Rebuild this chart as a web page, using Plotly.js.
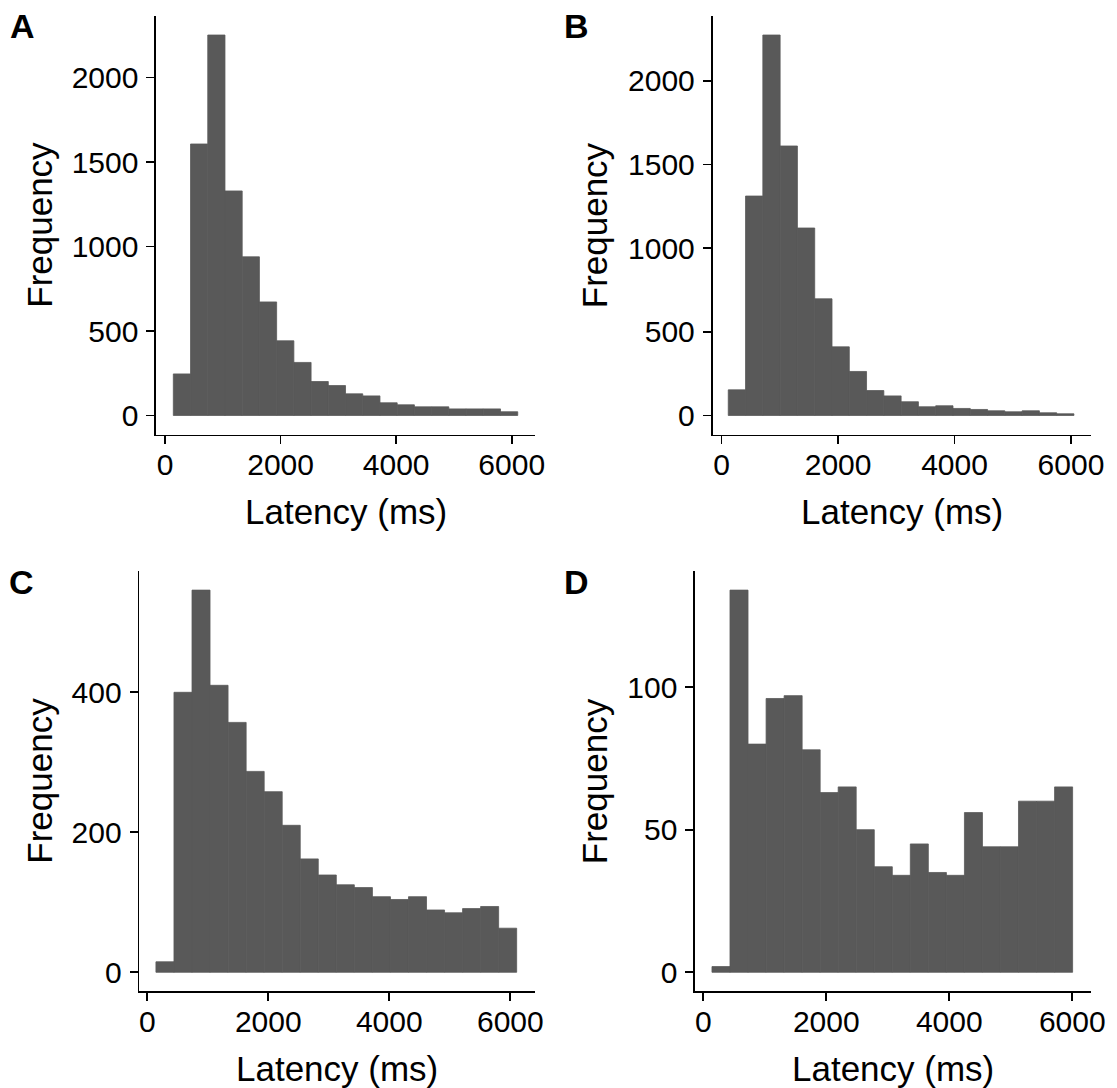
<!DOCTYPE html>
<html>
<head>
<meta charset="utf-8">
<script src="https://cdn.plot.ly/plotly-3.0.1.min.js"></script>
<style>html,body{margin:0;padding:0;background:#fff;}#chart{width:1117px;height:1088px;}</style>
</head>
<body>
<div id="chart"></div>
<script>
// ---- data ----
const panelLabels = ["A", "B", "C", "D"];
const xTitle = "Latency (ms)";
const yTitle = "Frequency";

const binsA = [293, 591, 889, 1187, 1485, 1783, 2081, 2379, 2677, 2975, 3273, 3571, 3869, 4167, 4465, 4763, 5061, 5359, 5657, 5955];
const countsA = [246, 1607, 2252, 1329, 939, 672, 442, 314, 201, 177, 128, 116, 75, 63, 51, 51, 39, 39, 39, 22];

const binsB = [262, 559, 856, 1153, 1450, 1747, 2044, 2340, 2637, 2934, 3231, 3528, 3825, 4122, 4419, 4715, 5012, 5309, 5606, 5902];
const countsB = [153, 1311, 2273, 1610, 1120, 697, 410, 263, 149, 117, 82, 52, 58, 42, 36, 28, 22, 28, 16, 10];

const binsC = [292, 590, 888, 1186, 1485, 1783, 2081, 2379, 2677, 2975, 3273, 3572, 3870, 4168, 4466, 4764, 5062, 5360, 5658, 5956];
const countsC = [15, 400, 546, 410, 357, 287, 258, 210, 162, 139, 125, 121, 108, 104, 108, 89, 85, 91, 94, 63];

const binsD = [288, 581, 874, 1168, 1461, 1754, 2047, 2340, 2634, 2927, 3220, 3513, 3807, 4100, 4393, 4686, 4979, 5272, 5566, 5859];
const countsD = [2, 134, 80, 96, 97, 78, 63, 65, 50, 37, 34, 45, 35, 34, 56, 44, 44, 60, 60, 65];

const xTicks = [0, 2000, 4000, 6000];
const yTicksAB = [0, 500, 1000, 1500, 2000];
const yTicksC = [0, 200, 400];
const yTicksD = [0, 50, 100];

// ---- layout helpers (pixels -> paper) ----
const W = 1117, H = 1088;
const fx = p => p / W;
const fy = p => 1 - p / H;
const FONT = "Liberation Sans, Arial, Helvetica, sans-serif";
const BAR = "#595959";

const panels = [
  {bins: binsA, counts: countsA, width: 298, xr: [-154, 6403], yr: [-112.6, 2364.6], yt: yTicksAB, L: 156.1, R: 535, T: 16, B: 434.5},
  {bins: binsB, counts: countsB, width: 297, xr: [-157, 6335], yr: [-113.6, 2386.6], yt: yTicksAB, L: 712.5, R: 1090.5, T: 16, B: 434.5},
  {bins: binsC, counts: countsC, width: 298, xr: [-132, 6403], yr: [-27.3, 573.3], yt: yTicksC, L: 139.3, R: 534.7, T: 571, B: 991.4},
  {bins: binsD, counts: countsD, width: 293, xr: [-133, 6298], yr: [-6.7, 140.7], yt: yTicksD, L: 695.1, R: 1090.6, T: 571, B: 991.4}
];

const data = [];
const layout = {
  width: W, height: H,
  margin: {l: 0, r: 0, t: 0, b: 0, pad: 0},
  paper_bgcolor: "#ffffff", plot_bgcolor: "#ffffff",
  showlegend: false,
  font: {family: FONT, color: "#000000"},
  annotations: []
};

const labelX = [9, 563, 7.5, 563];
const labelY = [25.5, 25.5, 581.5, 581.5];
const yTitleX = [39.5, 594, 39.5, 594];

panels.forEach((p, i) => {
  const sfx = i === 0 ? "" : String(i + 1);
  data.push({
    type: "bar",
    x: p.bins, y: p.counts,
    width: p.width,
    xaxis: "x" + sfx, yaxis: "y" + sfx,
    marker: {color: BAR, line: {width: 0.8, color: BAR}},
    hoverinfo: "x+y"
  });
  const common = {
    showgrid: false, zeroline: false,
    showline: true, linecolor: "#000000", linewidth: 1.7,
    ticks: "outside", ticklen: 8, tickwidth: 1.7, tickcolor: "#000000",
    tickfont: {family: FONT, size: 30, color: "#000000"},
    fixedrange: true
  };
  layout["xaxis" + sfx] = Object.assign({}, common, {
    domain: [fx(p.L), fx(p.R)], range: p.xr,
    anchor: "y" + sfx, tickmode: "array", tickvals: xTicks,
    ticklabelstandoff: -5
  });
  layout["yaxis" + sfx] = Object.assign({}, common, {
    domain: [fy(p.B), fy(p.T)], range: p.yr,
    anchor: "x" + sfx, tickmode: "array", tickvals: p.yt,
    ticklabelstandoff: 2
  });
  // panel label
  layout.annotations.push({
    text: "<b>" + panelLabels[i] + "</b>", xref: "paper", yref: "paper",
    x: fx(labelX[i]), y: fy(labelY[i]), xanchor: "left", yanchor: "middle",
    showarrow: false, borderpad: 0, font: {family: FONT, size: 34, color: "#000000"}
  });
  // x axis title
  layout.annotations.push({
    text: xTitle, xref: "paper", yref: "paper",
    x: fx((p.L + p.R) / 2), y: fy(p.B + 77), xanchor: "center", yanchor: "middle",
    showarrow: false, borderpad: 0, font: {family: FONT, size: 35, color: "#000000"}
  });
  // y axis title
  layout.annotations.push({
    text: yTitle, xref: "paper", yref: "paper", textangle: -90,
    x: fx(yTitleX[i]), y: fy((p.T + p.B) / 2), xanchor: "center", yanchor: "middle",
    showarrow: false, borderpad: 0, font: {family: FONT, size: 35, color: "#000000"}
  });
});

Plotly.newPlot("chart", data, layout, {displayModeBar: false, staticPlot: true});
</script>
</body>
</html>
